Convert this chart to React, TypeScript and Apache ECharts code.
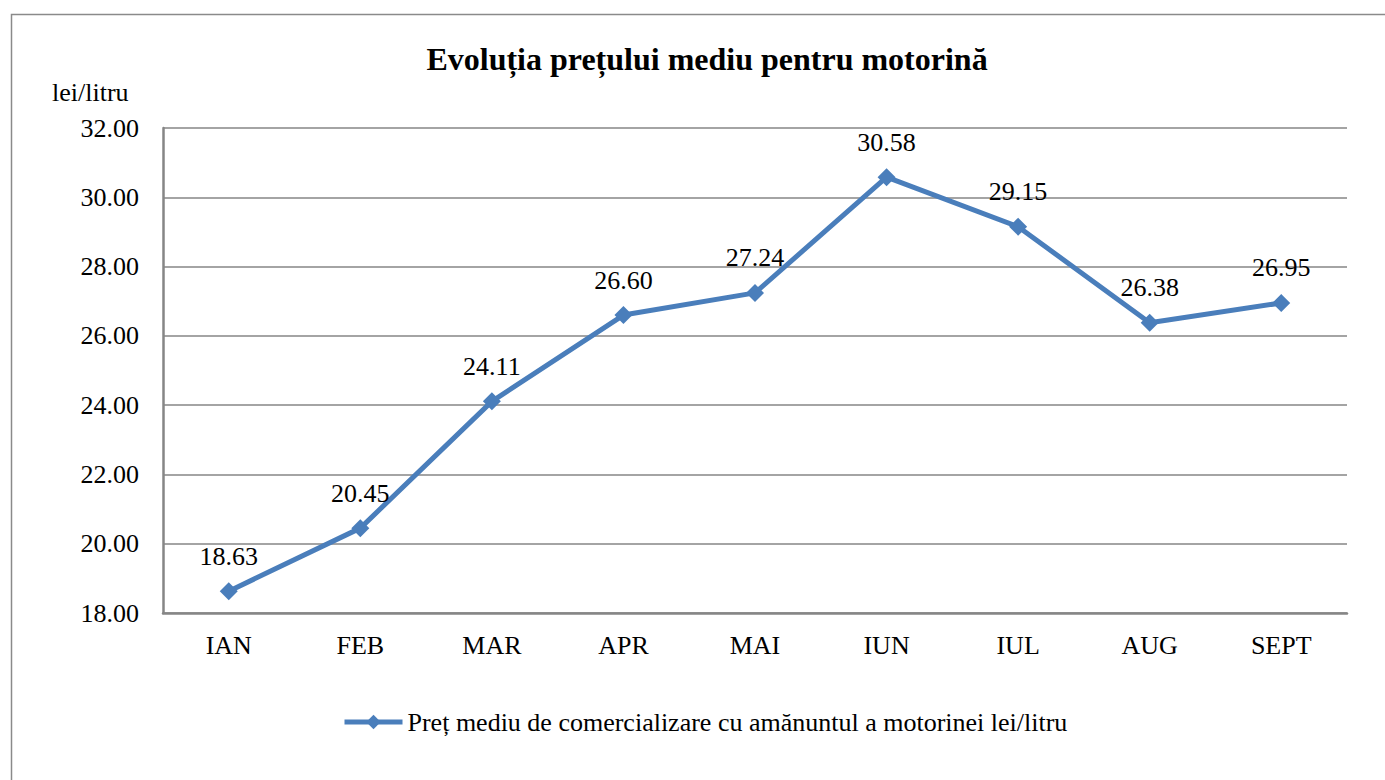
import React, { useEffect, useRef } from "react";
import * as echarts from "echarts";

const categories = ["IAN", "FEB", "MAR", "APR", "MAI", "IUN", "IUL", "AUG", "SEPT"];
const prices = [18.63, 20.45, 24.11, 26.6, 27.24, 30.58, 29.15, 26.38, 26.95];
const seriesName = "Preț mediu de comercializare cu amănuntul a motorinei lei/litru";
const titleText = "Evoluția prețului mediu pentru motorină";
const unitLabel = "lei/litru";
const yMin = 18;
const yMax = 32;
const yStep = 2;

const FONT = "Liberation Serif";

export default function App() {
  const ref = useRef<HTMLDivElement>(null);
  useEffect(() => {
    if (!ref.current) return;
    const chart = echarts.init(ref.current, null, { renderer: "svg" });
    chart.setOption({
      animation: false,
      backgroundColor: "#ffffff",
      title: {
        text: titleText,
        left: 702,
        textAlign: "center",
        top: 38,
        textStyle: { fontFamily: FONT, fontSize: 32, fontWeight: "bold", color: "#000" },
      },
      graphic: [
        {
          type: "rect",
          shape: { x: 11.5, y: 14.5, width: 1500, height: 900 },
          style: { fill: "none", stroke: "#8a8a8a", lineWidth: 1.5 },
          silent: true,
        },
        {
          type: "text",
          left: 52,
          top: 79,
          style: { text: unitLabel, font: `26px ${FONT}`, fill: "#000" },
        },
      ],
      legend: {
        data: [seriesName],
        left: 337,
        top: 704,
        itemWidth: 58,
        itemHeight: 18,
        itemGap: 4,
        lineStyle: { width: 5, color: "#4a7ebb" },
        textStyle: { fontFamily: FONT, fontSize: 26, color: "#000" },
      },
      grid: { left: 163, top: 128, right: 38, bottom: 167 },
      xAxis: {
        type: "category",
        data: categories,
        boundaryGap: true,
        axisLine: { lineStyle: { color: "#868686", width: 2.5 } },
        axisTick: { show: false },
        axisLabel: { fontFamily: FONT, fontSize: 26, color: "#000", margin: 19 },
      },
      yAxis: {
        type: "value",
        min: yMin,
        max: yMax,
        interval: yStep,
        axisLine: { show: true, lineStyle: { color: "#868686", width: 2.5 } },
        axisTick: { show: false },
        splitLine: { lineStyle: { color: "#868686", width: 1.5 } },
        axisLabel: {
          fontFamily: FONT,
          fontSize: 26,
          color: "#000",
          margin: 24,
          formatter: (v: number) => v.toFixed(2),
        },
      },
      series: [
        {
          name: seriesName,
          type: "line",
          data: prices,
          symbol: "diamond",
          symbolSize: 18,
          lineStyle: { color: "#4a7ebb", width: 5 },
          itemStyle: { color: "#4a7ebb" },
          label: {
            show: true,
            position: "top",
            distance: 13,
            fontFamily: FONT,
            fontSize: 26,
            color: "#000",
            formatter: (p: any) => Number(p.value).toFixed(2),
          },
        },
      ],
    });
    return () => chart.dispose();
  }, []);
  return (
    <div
      ref={ref}
      style={{ position: "fixed", left: 0, top: 0, width: 1385, height: 780 }}
    />
  );
}
